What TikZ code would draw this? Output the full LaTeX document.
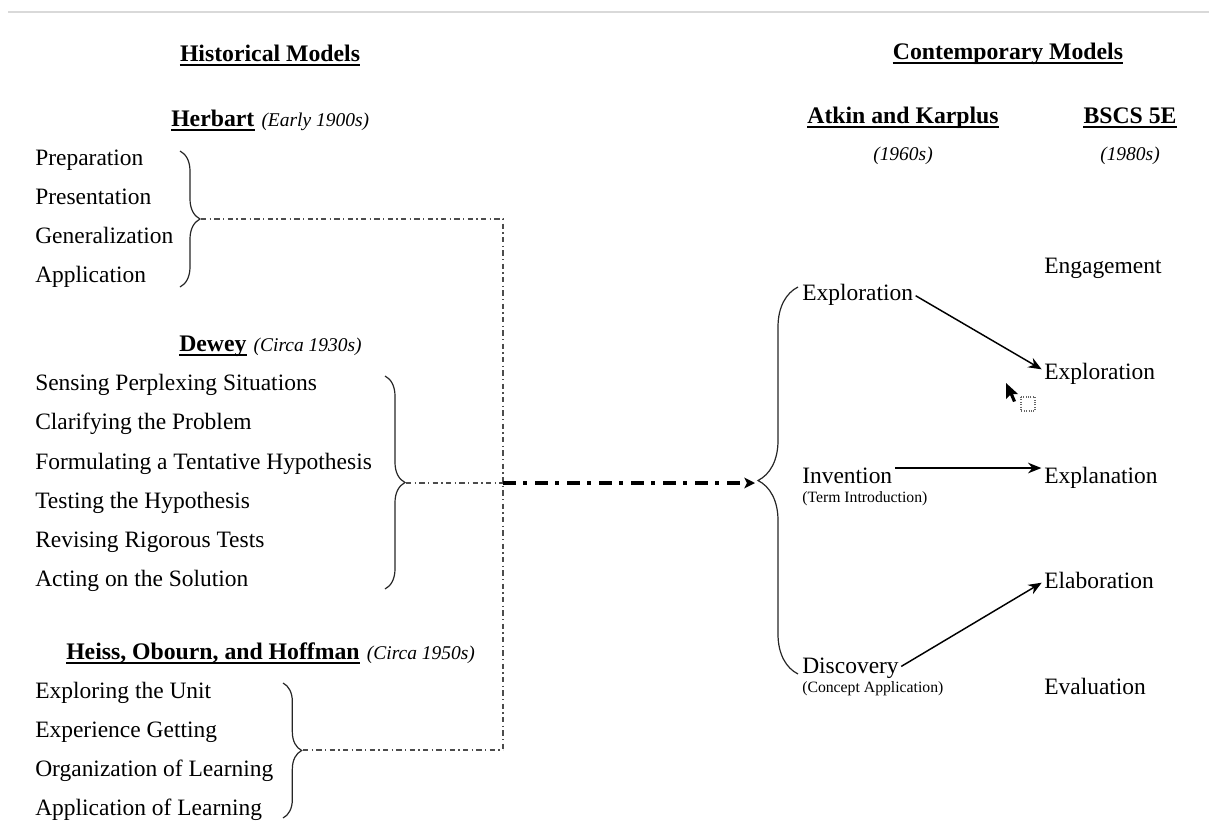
\documentclass[tikz,border=0pt]{standalone}
\usepackage{fontspec}
\setmainfont{Liberation Serif}
\usetikzlibrary{decorations.pathreplacing,arrows.meta}
\tikzset{
 item/.style={anchor=base west, inner sep=0pt, font=\fontsize{17.6}{21}\selectfont},
 hdr/.style={anchor=base, inner sep=0pt, font=\fontsize{17.8}{21}\selectfont\bfseries},
 hdrw/.style={anchor=base west, inner sep=0pt, font=\fontsize{17.8}{21}\selectfont\bfseries},
 yr/.style={anchor=base west, inner sep=0pt, font=\fontsize{14.6}{18}\selectfont\itshape},
 yrc/.style={anchor=base, inner sep=0pt, font=\fontsize{14.6}{18}\selectfont\itshape},
 sub/.style={anchor=base west, inner sep=0pt, font=\fontsize{11.8}{14}\selectfont},
 ul/.style={line width=1.4pt},
 brc/.style={decorate, decoration={brace, amplitude=#1}, line width=0.9pt, draw=black!85},
 thindd/.style={line width=0.8pt, draw=black!70, dash pattern=on 4pt off 2.5pt on 1pt off 2.5pt},
 thickdd/.style={line width=2.6pt, dash pattern=on 9.75pt off 5.25pt on 3pt off 6pt, -{Stealth[length=8pt,width=8pt,inset=2pt]}},
 arr/.style={line width=1.1pt, -{Stealth[length=10pt, width=8pt]}, shorten >=2pt, shorten <=2pt},
}
\begin{document}
\begin{tikzpicture}[x=0.75pt, y=-0.75pt]
\useasboundingbox (0,0) rectangle (1209,821);
\draw[black!15, line width=1.5pt] (8,12) -- (1209,12);

% Headings
\node[hdr] (hist) at (270,61) {Historical Models};
\draw[ul] ([yshift=-3pt]hist.base west) -- ([yshift=-3pt]hist.base east);
\node[hdr] (cont) at (1008,59) {Contemporary Models};
\draw[ul] ([yshift=-3pt]cont.base west) -- ([yshift=-3pt]cont.base east);

\node[hdrw] (herb) at (171,126) {Herbart};
\draw[ul] ([yshift=-3pt]herb.base west) -- ([yshift=-3pt]herb.base east);
\node[yr] (herby) at ([xshift=5pt]herb.base east) {(Early 1900s)};

\node[hdrw] (dew) at (179,351) {Dewey};
\draw[ul] ([yshift=-3pt]dew.base west) -- ([yshift=-3pt]dew.base east);
\node[yr] (dewy) at ([xshift=5pt]dew.base east) {(Circa 1930s)};

\node[hdrw] (hei) at (66,659) {Heiss, Obourn, and Hoffman};
\draw[ul] ([yshift=-3pt]hei.base west) -- ([yshift=-3pt]hei.base east);
\node[yr] (heiy) at ([xshift=5pt]hei.base east) {(Circa 1950s)};

\node[hdr] (ak) at (903,123) {Atkin and Karplus};
\draw[ul] ([yshift=-3pt]ak.base west) -- ([yshift=-3pt]ak.base east);
\node[yrc] (aky) at (903,160) {(1960s)};
\node[hdr] (bs) at (1130,123) {BSCS 5E};
\draw[ul] ([yshift=-3pt]bs.base west) -- ([yshift=-3pt]bs.base east);
\node[yrc] (bsy) at (1130,160) {(1980s)};

% Herbart items
\node[item] (h1) at (35,165) {Preparation};
\node[item] (h2) at (35,204) {Presentation};
\node[item] (h3) at (35,243) {Generalization};
\node[item] (h4) at (35,282) {Application};
% Dewey items
\node[item] (d1) at (35,390) {Sensing Perplexing Situations};
\node[item] (d2) at (35,429) {Clarifying the Problem};
\node[item] (d3) at (35,469) {Formulating a Tentative Hypothesis};
\node[item] (d4) at (35,508) {Testing the Hypothesis};
\node[item] (d5) at (35,547) {Revising Rigorous Tests};
\node[item] (d6) at (35,586) {Acting on the Solution};
% Heiss items
\node[item] (e1) at (35,698) {Exploring the Unit};
\node[item] (e2) at (35,737) {Experience Getting};
\node[item] (e3) at (35,776) {Organization of Learning};
\node[item] (e4) at (35,815) {Application of Learning};

% Atkin & Karplus
\node[item] (ak1) at (802,300) {Exploration};
\node[item] (ak2) at (802,483) {Invention};
\node[sub] (ak2s) at (802,502) {(Term Introduction)};
\node[item] (ak3) at (802,673) {Discovery};
\node[sub] (ak3s) at (802,692) {(Concept Application)};

% BSCS 5E
\node[item] (b1) at (1044,273) {Engagement};
\node[item] (b2) at (1044,379) {Exploration};
\node[item] (b3) at (1044,483) {Explanation};
\node[item] (b4) at (1044,588) {Elaboration};
\node[item] (b5) at (1044,694) {Evaluation};

% Braces
\draw[brc=15pt] (180,151) -- (180,287);
\draw[brc=15pt] (385,376) -- (385,589);
\draw[brc=14pt] (283,683) -- (283,818);
\draw[brc=30pt] (798,674) -- (798,287);

\coordinate (hb) at (201,219);
\coordinate (db) at (406,483);
\coordinate (eb) at (303,750);
\coordinate (rb) at (755,483);
\coordinate (j1) at (503,219);
\coordinate (j2) at (503,483);
\coordinate (j3) at (503,750);

\draw[thindd] (hb) -- (j1) -- (j3);
\draw[thindd] (eb) -- (j3);
\draw[thindd] (db) -- (j2);
\draw[thickdd] (j2) -- (rb);

% Arrows
\draw[arr] (ak1.east) -- ([yshift=2pt]b2.west);
\draw[arr] ([yshift=5.5pt]ak2.east) -- ([yshift=5.5pt]ak2.east -| b3.west);
\draw[arr] (ak3.east) -- ([yshift=-1pt]b4.west);

% Mouse cursor artifact
\fill[black] (1006,383) -- (1006,399) -- (1010,395) -- (1013,402) -- (1016,401) -- (1013,394) -- (1018,394) -- cycle;
\draw[black!60, densely dotted, line width=0.8pt] (1021,397) rectangle (1035,411);
\end{tikzpicture}
\end{document}
